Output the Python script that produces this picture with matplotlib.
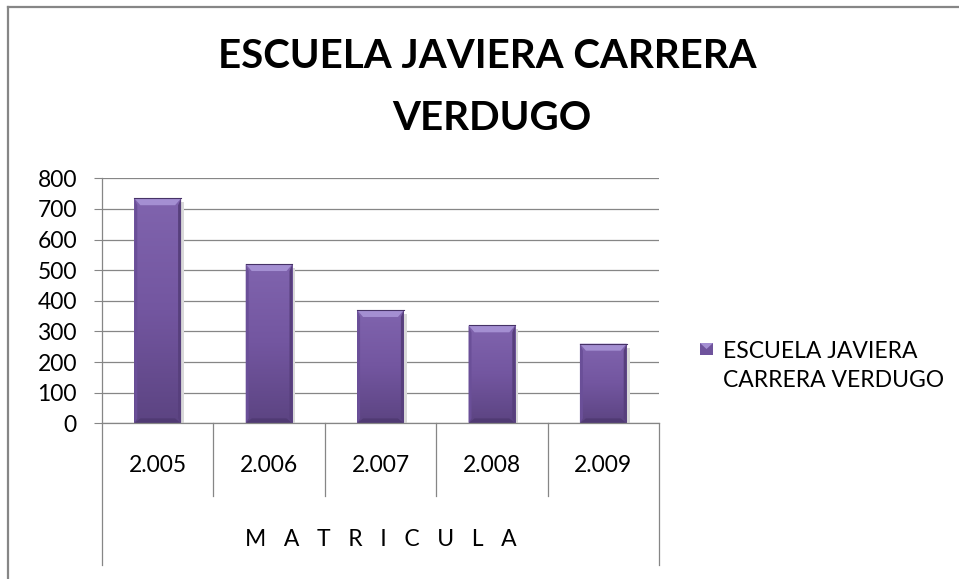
import numpy as np
import matplotlib
matplotlib.use("Agg")
import matplotlib.pyplot as plt
from matplotlib.patches import Rectangle, Polygon
from matplotlib.lines import Line2D

plt.rcParams['font.family'] = ['Lato', 'DejaVu Sans']

# datos
titulo = ["ESCUELA JAVIERA CARRERA", "VERDUGO"]
anios = ["2.005", "2.006", "2.007", "2.008", "2.009"]
matricula = [735, 520, 370, 320, 260]
grupo = "M   A   T   R   I   C   U   L   A"
serie = "ESCUELA JAVIERA\nCARRERA VERDUGO"
yticks = [0, 100, 200, 300, 400, 500, 600, 700, 800]

gris = "#868686"
W, H = 959, 579
fig = plt.figure(figsize=(W / 100, H / 100), dpi=100)

# area del grafico (pixeles -> fraccion)
x0, x1, ytop, ybot = 102, 659, 178.3, 423.3
ax = fig.add_axes([x0 / W, 1 - ybot / H, (x1 - x0) / W, (ybot - ytop) / H])

n = len(anios)
xs = np.arange(n)
ancho = 0.42
ax.set_xlim(-0.5, n - 0.5)
ax.set_ylim(0, 800)

# lineas de division
ax.set_yticks(yticks)
ax.yaxis.grid(True, color=gris, lw=0.9)
ax.set_axisbelow(True)
ax.tick_params(axis='y', direction='out', length=6, width=0.8, color=gris,
               labelsize=16.5, pad=12)
ax.tick_params(axis='x', length=0, labelbottom=False)
for s in ['top', 'right']:
    ax.spines[s].set_visible(False)
for s in ['left', 'bottom']:
    ax.spines[s].set_color(gris)
    ax.spines[s].set_linewidth(0.9)

# barras con efecto bisel
px = 800 / (ybot - ytop)          # unidades por pixel en y
pxx = n / (x1 - x0)               # unidades por pixel en x
barras = ax.bar(xs, matricula, width=ancho, color="#7a5da6", zorder=2)
grad = np.linspace(0, 1, 100).reshape(-1, 1)
cmap = matplotlib.colors.LinearSegmentedColormap.from_list(
    "morado", ["#5c4482", "#7356a0", "#8064ae"])
for b, v in zip(barras, matricula):
    xl = b.get_x()
    xr = xl + b.get_width()
    # sombra
    ax.add_patch(Rectangle((xr, -2 * px), 3 * pxx, v - 2 * px,
                           color="#d9d9d9", zorder=1.5, lw=0))
    im = ax.imshow(grad, extent=[xl, xr, 0, v], origin='lower', cmap=cmap,
                   aspect='auto', zorder=2.1)
    im.set_clip_path(b)
    dx, dy = 6 * pxx, 7 * px
    ax.add_patch(Polygon([[xl, v], [xr, v], [xr - dx, v - dy], [xl + dx, v - dy]],
                         closed=True, color="#a48fd2", lw=0, zorder=2.2))
    ax.add_patch(Polygon([[xl, 0], [xr, 0], [xr - dx, dy * 0.7], [xl + dx, dy * 0.7]],
                         closed=True, color="#503a73", lw=0, zorder=2.2))
    ax.add_patch(Polygon([[xr, v], [xr, 0], [xr - dx * 0.5, dy * 0.7], [xr - dx * 0.5, v - dy]],
                         closed=True, color="#573f7c", lw=0, zorder=2.2))
    ax.add_patch(Polygon([[xl, v], [xl, 0], [xl + dx * 0.5, dy * 0.7], [xl + dx * 0.5, v - dy]],
                         closed=True, color="#6a4f98", lw=0, zorder=2.2))
    ax.plot([xl, xr], [v, v], color="#463266", lw=0.8, zorder=2.3)

# eje de categorias en dos niveles
tr = ax.get_xaxis_transform()
prof1 = -(496 - ybot) / (ybot - ytop)
prof2 = -(565 - ybot) / (ybot - ytop)
for k in range(1, n):
    ax.plot([k - 0.5, k - 0.5], [0, prof1], transform=tr, color=gris,
            lw=0.9, clip_on=False)
for xb in [-0.5, n - 0.5]:
    ax.plot([xb, xb], [0, prof2], transform=tr, color=gris, lw=0.9, clip_on=False)
yl1 = -(466 - ybot) / (ybot - ytop)
yl2 = -(540 - ybot) / (ybot - ytop)
for x, a in zip(xs, anios):
    ax.text(x, yl1, a, transform=tr, ha='center', va='center', fontsize=16.5)
ax.text((n - 1) / 2, yl2, grupo, transform=tr, ha='center', va='center',
        fontsize=16.5)

# titulo
fig.text(0.5 + 8 / W, 1 - 57 / H, titulo[0], ha='center', va='center',
         fontsize=29, fontweight='bold')
fig.text(0.5 + 12 / W, 1 - 118 / H, titulo[1], ha='center', va='center',
         fontsize=29, fontweight='bold')

# leyenda
fig.patches.append(Rectangle((700 / W, 1 - 355 / H), 13 / W, 12 / H,
                             transform=fig.transFigure, color="#6f539c", lw=0))
fig.patches.append(Polygon([[700 / W, 1 - 343 / H], [713 / W, 1 - 343 / H],
                            [706.5 / W, 1 - 349 / H]], closed=True,
                           transform=fig.transFigure, color="#a48fd2", lw=0))
fig.text(723 / W, 1 - 366 / H, serie, ha='left', va='center', fontsize=16.5,
         linespacing=1.5)

# borde del grafico
fig.add_artist(Line2D([8 / W, 1], [1 - 7 / H, 1 - 7 / H], color=gris, lw=1.6,
                      transform=fig.transFigure))
fig.add_artist(Line2D([8 / W, 8 / W], [0, 1 - 7 / H], color=gris, lw=1.6,
                      transform=fig.transFigure))

fig.savefig("out.png", dpi=100)
